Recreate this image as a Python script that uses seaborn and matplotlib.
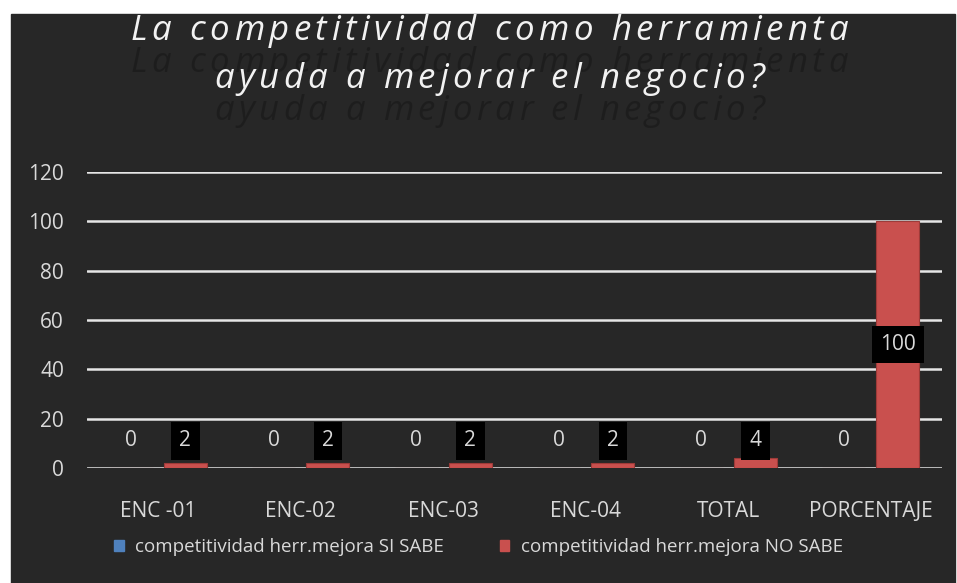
import pandas as pd
import seaborn as sns
import matplotlib.pyplot as plt
from matplotlib.patches import Rectangle

categories = ['ENC -01', 'ENC-02', 'ENC-03', 'ENC-04', 'TOTAL', 'PORCENTAJE']
si_sabe = [0, 0, 0, 0, 0, 0]
no_sabe = [2, 2, 2, 2, 4, 100]
series_names = ['competitividad herr.mejora SI SABE',
                'competitividad herr.mejora NO SABE']
title_lines = ['La competitividad como herramienta',
               'ayuda a mejorar el negocio?']

frame = pd.DataFrame({
    'cat': categories * 2,
    'serie': [series_names[0]] * 6 + [series_names[1]] * 6,
    'value': si_sabe + no_sabe,
})

BG = '#272727'
TXT = '#d9d9d9'
colors = {series_names[0]: '#4f81bd', series_names[1]: '#c9504e'}

sns.set_theme(style='dark')
plt.rcParams['font.family'] = ['Open Sans', 'DejaVu Sans']

fig = plt.figure(figsize=(9.57, 5.83), dpi=100, facecolor='white')
fig.add_artist(Rectangle((11 / 957, 0), 944 / 957, 569 / 583,
                         transform=fig.transFigure, color=BG, zorder=-5))

ax = fig.add_axes([87 / 957, 115 / 583, 855 / 957, 296 / 583])
ax.set_facecolor(BG)
ax.patch.set_alpha(0)

sns.barplot(data=frame, x='cat', y='value', hue='serie', order=categories,
            hue_order=series_names, palette=colors, saturation=1,
            width=0.76, gap=0.21, edgecolor='#9e3b39', linewidth=0.8,
            legend=False, ax=ax)

ax.set_ylim(0, 120)
ax.set_yticks(range(0, 121, 20))
ax.yaxis.grid(True, color='#e6e6e6', linewidth=1.8)
ax.xaxis.grid(False)
ax.set_axisbelow(True)
for s in ax.spines.values():
    s.set_visible(False)
# pads are in points (1 pt = 1.39 px here)
ax.tick_params(axis='y', colors=TXT, labelsize=15, pad=16.5, length=0)
ax.tick_params(axis='x', colors=TXT, labelsize=15, pad=24, length=0)
ax.set_xlabel('')
ax.set_ylabel('')

# data labels
for i, (a, b) in enumerate(zip(si_sabe, no_sabe)):
    ax.text(i - 0.19, max(a / 2, 11), str(a), ha='center', va='center',
            color=TXT, fontsize=15)
    ax.text(i + 0.19, max(b / 2, 11), str(b), ha='center', va='center',
            color=TXT, fontsize=15,
            bbox=dict(boxstyle='square,pad=0.4', fc='black', ec='none'))

# title, drawn letter by letter to get the wide tracking, plus dark reflection
renderer = fig.canvas.get_renderer()
FS = 25


def width_of(s):
    t = fig.text(0, 0, s + '|', fontsize=FS, style='italic')
    b = fig.text(0, 0, '|', fontsize=FS, style='italic')
    w = t.get_window_extent(renderer).width - b.get_window_extent(renderer).width
    t.remove()
    b.remove()
    return w


def spaced_line(text, y_px, target_w, color, alpha=1.0):
    track = (target_w - width_of(text)) / (len(text) - 1)
    x0 = 489 - target_w / 2
    for k, ch in enumerate(text):
        w = width_of(text[:k]) if k else 0
        fig.text((x0 + w + track * k) / 957, 1 - y_px / 583, ch,
                 fontsize=FS, style='italic', color=color, alpha=alpha,
                 ha='left', va='center')


targets = [717, 550]
for j, line in enumerate(title_lines):
    spaced_line(line, 63 + 48 * j, targets[j], '#1c1c1c', 0.85)
    spaced_line(line, 31 + 48 * j, targets[j], '#f2f2f2')

# legend
handles = [Rectangle((0, 0), 1, 1, color=colors[n]) for n in series_names]
fig.legend(handles, series_names, loc='center', bbox_to_anchor=(0.5, 1 - 547 / 583),
           ncol=2, frameon=False, fontsize=13.5, labelcolor=TXT,
           handlelength=0.5, handleheight=0.5, handletextpad=0.6,
           columnspacing=3.0)

plt.savefig('out.png', dpi=100, facecolor='white')
